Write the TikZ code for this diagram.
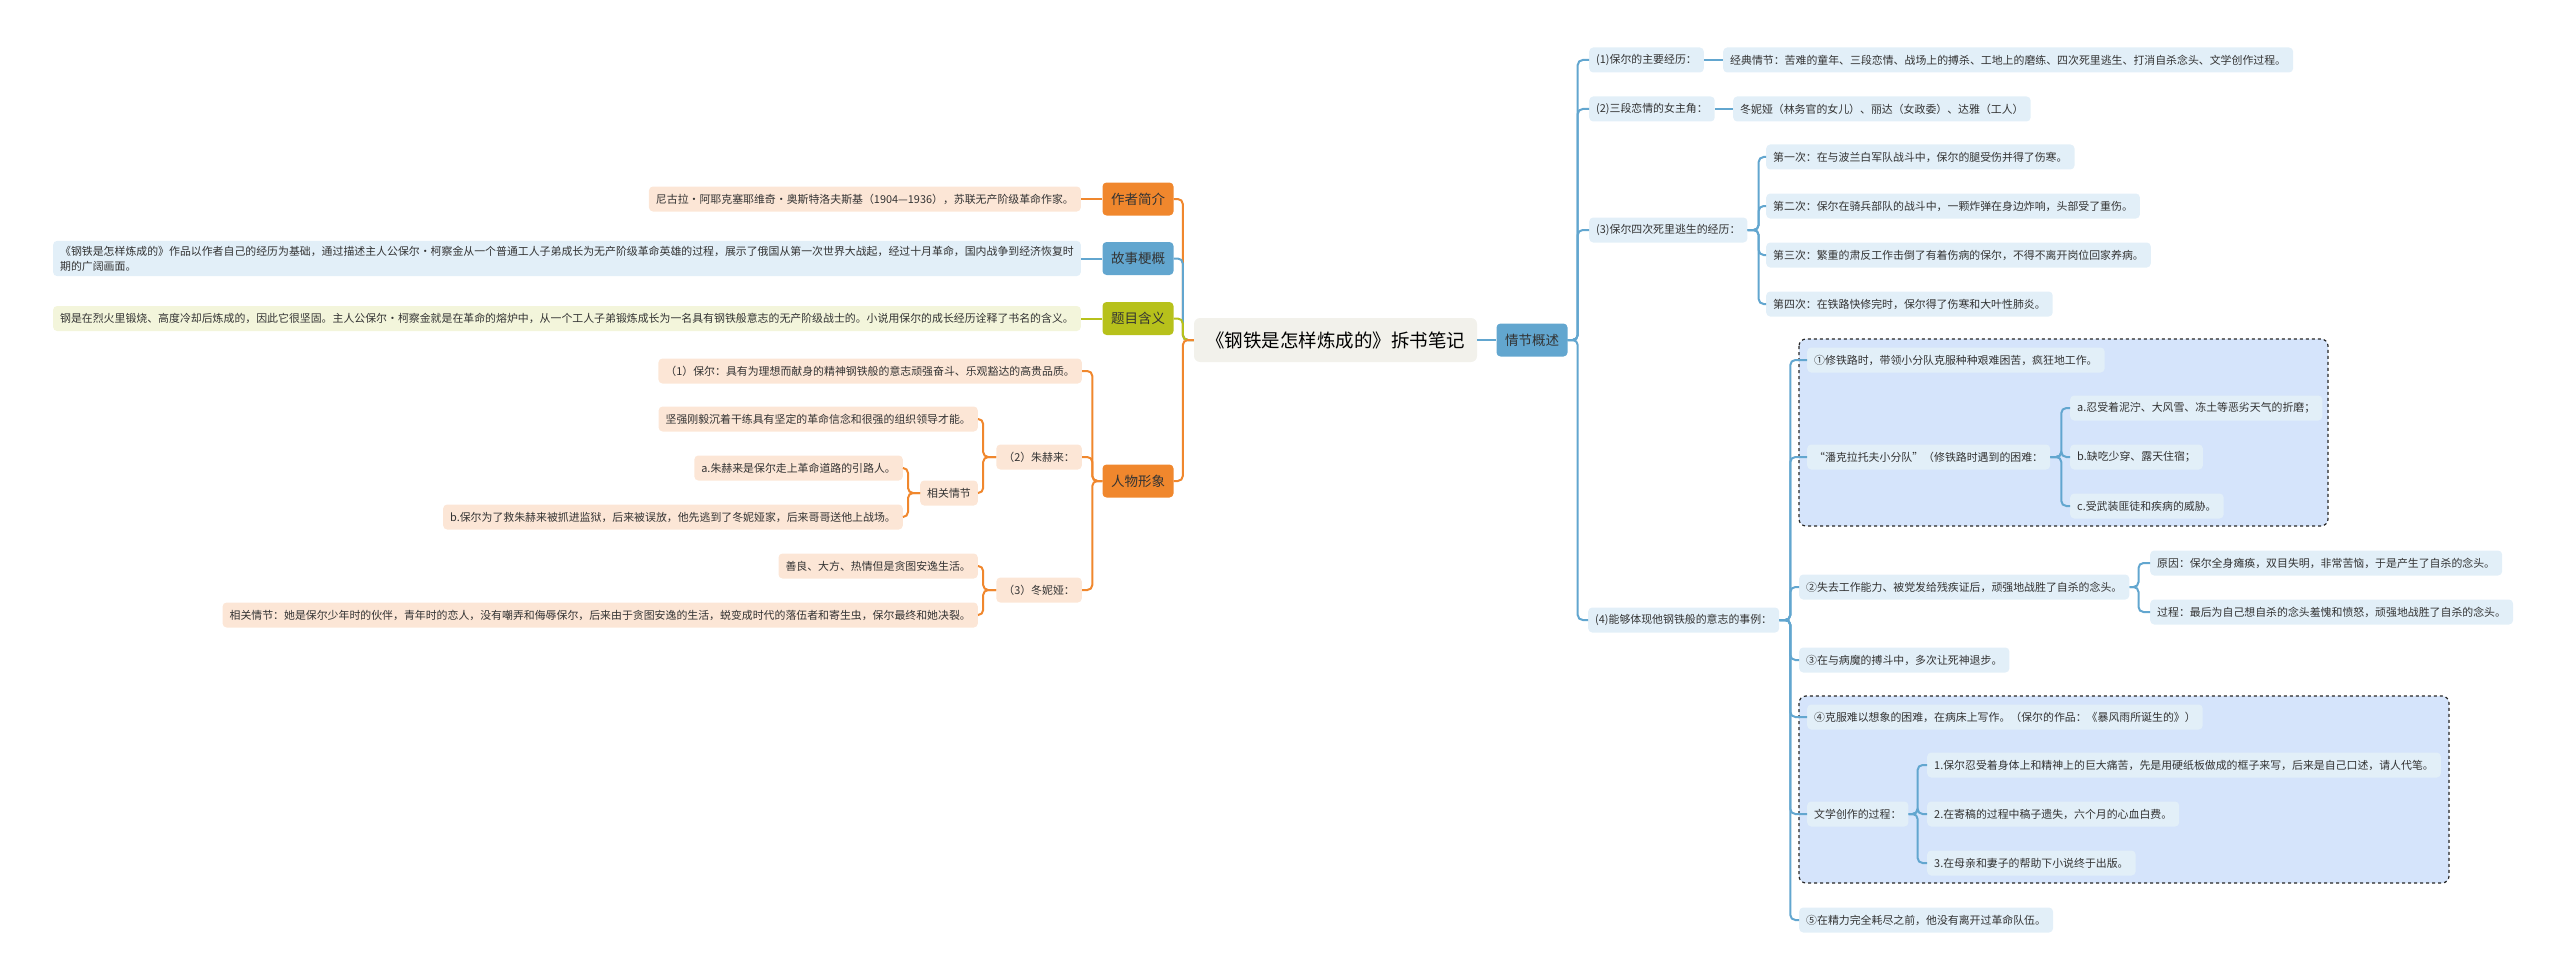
\documentclass[tikz,border=0pt]{standalone}
\usepackage{fontspec}
\setmainfont{Noto Sans CJK SC}

\definecolor{orng}{HTML}{F0872D}
\definecolor{blu}{HTML}{62A6CF}
\definecolor{oliv}{HTML}{B7C11B}
\definecolor{peach}{HTML}{FCE6D6}
\definecolor{lblue}{HTML}{E2EFF8}
\definecolor{lyel}{HTML}{F3F5DB}
\definecolor{rootfill}{HTML}{F2F1EB}
\definecolor{boxblue}{HTML}{D5E4FB}
\definecolor{txt}{HTML}{333333}

\tikzset{
  leaf/.style={rounded corners=4, inner xsep=7, inner ysep=5, minimum height=25,
    font=\fontsize{10.9}{15}\selectfont, text=txt, align=left},
  oleaf/.style={leaf, fill=peach},
  bleaf/.style={leaf, fill=lblue},
  yleaf/.style={leaf, fill=lyel},
  topic/.style={rounded corners=4, minimum width=71, minimum height=33, inner xsep=7,
    font=\fontsize{13.5}{16}\selectfont, text=txt},
  oline/.style={draw=orng, line width=2, rounded corners=5},
  bline/.style={draw=blu, line width=2, rounded corners=5},
  yline/.style={draw=oliv, line width=2, rounded corners=5},
  dashbox/.style={draw=black!85, dashed, line width=1.2, fill=boxblue, rounded corners=7}
}

\begin{document}
\begin{tikzpicture}[x=1pt,y=-1pt]
\useasboundingbox (0,0) rectangle (2560,979);

% groups
\draw[dashbox] (1799,339) rectangle (2328,526);
\draw[dashbox] (1799,696) rectangle (2449,883);

% centre
\node[rounded corners=6, fill=rootfill, minimum width=283, minimum height=44,
  font=\fontsize{18.5}{20}\selectfont, text=black] (root) at (1335.5,340) {《钢铁是怎样炼成的》拆书笔记};
\node[topic, fill=blu] (plot) at (1532,340) {情节概述};

% left topics
\node[topic, fill=orng] (auth) at (1138,199) {作者简介};
\node[topic, fill=blu] (story) at (1138,258.5) {故事梗概};
\node[topic, fill=oliv] (title) at (1138,318.5) {题目含义};
\node[topic, fill=orng] (chars) at (1138,481) {人物形象};

\node[oleaf, anchor=east] (authl) at (1081,199) {尼古拉·阿耶克塞耶维奇·奥斯特洛夫斯基（1904—1936），苏联无产阶级革命作家。};
\node[bleaf, anchor=east] (storyl) at (1081,258.5) {《钢铁是怎样炼成的》作品以作者自己的经历为基础，通过描述主人公保尔·柯察金从一个普通工人子弟成长为无产阶级革命英雄的过程，展示了俄国从第一次世界大战起，经过十月革命，国内战争到经济恢复时\\期的广阔画面。};
\node[yleaf, anchor=east] (titlel) at (1081,318.5) {钢是在烈火里锻烧、高度冷却后炼成的，因此它很坚固。主人公保尔•柯察金就是在革命的熔炉中，从一个工人子弟锻炼成长为一名具有钢铁般意志的无产阶级战士的。小说用保尔的成长经历诠释了书名的含义。};

\node[oleaf, anchor=east] (paul) at (1082,371) {（1）保尔：具有为理想而献身的精神钢铁般的意志顽强奋斗、乐观豁达的高贵品质。};
\node[oleaf, anchor=east] (zhu) at (1082,457) {（2）朱赫来：};
\node[oleaf, anchor=east] (dong) at (1082,590) {（3）冬妮娅：};
\node[oleaf, anchor=east] (zhua) at (978,419) {坚强刚毅沉着干练具有坚定的革命信念和很强的组织领导才能。};
\node[oleaf, anchor=east] (zhub) at (978,493) {相关情节};
\node[oleaf, anchor=east] (zhuba) at (903,468) {a.朱赫来是保尔走上革命道路的引路人。};
\node[oleaf, anchor=east] (zhubb) at (903,517) {b.保尔为了救朱赫来被抓进监狱，后来被误放，他先逃到了冬妮娅家，后来哥哥送他上战场。};
\node[oleaf, anchor=east] (donga) at (978,566) {善良、大方、热情但是贪图安逸生活。};
\node[oleaf, anchor=east] (dongb) at (978,615) {相关情节：她是保尔少年时的伙伴，青年时的恋人，没有嘲弄和侮辱保尔，后来由于贪图安逸的生活，蜕变成时代的落伍者和寄生虫，保尔最终和她决裂。};

% right side
\node[bleaf, anchor=west] (p1) at (1589,60) {(1)保尔的主要经历：};
\node[bleaf, anchor=west] (p1a) at (1723,60) {经典情节：苦难的童年、三段恋情、战场上的搏杀、工地上的磨练、四次死里逃生、打消自杀念头、文学创作过程。};
\node[bleaf, anchor=west] (p2) at (1589,109) {(2)三段恋情的女主角：};
\node[bleaf, anchor=west] (p2a) at (1733,109) {冬妮娅（林务官的女儿）、丽达（女政委）、达雅（工人）};
\node[bleaf, anchor=west] (p3) at (1589,230) {(3)保尔四次死里逃生的经历：};
\node[bleaf, anchor=west] (p3a) at (1766,157) {第一次：在与波兰白军队战斗中，保尔的腿受伤并得了伤寒。};
\node[bleaf, anchor=west] (p3b) at (1766,206) {第二次：保尔在骑兵部队的战斗中，一颗炸弹在身边炸响，头部受了重伤。};
\node[bleaf, anchor=west] (p3c) at (1766,255) {第三次：繁重的肃反工作击倒了有着伤病的保尔，不得不离开岗位回家养病。};
\node[bleaf, anchor=west] (p3d) at (1766,304) {第四次：在铁路快修完时，保尔得了伤寒和大叶性肺炎。};
\node[bleaf, anchor=west] (p4) at (1588,620) {(4)能够体现他钢铁般的意志的事例：};

\node[bleaf, anchor=west] (e1) at (1807,360) {①修铁路时，带领小分队克服种种艰难困苦，疯狂地工作。};
\node[bleaf, anchor=west] (pan) at (1807,457) {“潘克拉托夫小分队”（修铁路时遇到的困难：};
\node[bleaf, anchor=west] (pana) at (2070,408) {a.忍受着泥泞、大风雪、冻土等恶劣天气的折磨；};
\node[bleaf, anchor=west] (panb) at (2070,457) {b.缺吃少穿、露天住宿；};
\node[bleaf, anchor=west] (panc) at (2070,506) {c.受武装匪徒和疾病的威胁。};
\node[bleaf, anchor=west] (e2) at (1799,587) {②失去工作能力、被党发给残疾证后，顽强地战胜了自杀的念头。};
\node[bleaf, anchor=west] (e2a) at (2150,563) {原因：保尔全身瘫痪，双目失明，非常苦恼，于是产生了自杀的念头。};
\node[bleaf, anchor=west] (e2b) at (2150,612) {过程：最后为自己想自杀的念头羞愧和愤怒，顽强地战胜了自杀的念头。};
\node[bleaf, anchor=west] (e3) at (1799,660) {③在与病魔的搏斗中，多次让死神退步。};
\node[bleaf, anchor=west] (e4) at (1807,717) {④克服难以想象的困难，在病床上写作。（保尔的作品：《暴风雨所诞生的》）};
\node[bleaf, anchor=west] (wri) at (1807,814) {文学创作的过程：};
\node[bleaf, anchor=west] (wria) at (1927,765) {1.保尔忍受着身体上和精神上的巨大痛苦，先是用硬纸板做成的框子来写，后来是自己口述，请人代笔。};
\node[bleaf, anchor=west] (wrib) at (1927,814) {2.在寄稿的过程中稿子遗失，六个月的心血白费。};
\node[bleaf, anchor=west] (wric) at (1927,863) {3.在母亲和妻子的帮助下小说终于出版。};
\node[bleaf, anchor=west] (e5) at (1799,920) {⑤在精力完全耗尽之前，他没有离开过革命队伍。};

% connectors, left
\draw[oline] (root.west) -- ++(-11,0) |- (auth.east);
\draw[bline] (root.west) -- ++(-11,0) |- (story.east);
\draw[yline] (root.west) -- ++(-11,0) |- (title.east);
\draw[oline] (root.west) -- ++(-11,0) |- (chars.east);
\draw[oline] (auth.west) -- (authl.east);
\draw[bline] (story.west) -- (storyl.east);
\draw[yline] (title.west) -- (titlel.east);
\foreach \c in {paul,zhu,dong}
  \draw[oline] (chars.west) -- ++(-10,0) |- (\c.east);
\foreach \c in {zhua,zhub}
  \draw[oline] (zhu.west) -- ++(-13,0) |- (\c.east);
\foreach \c in {zhuba,zhubb}
  \draw[oline] (zhub.west) -- ++(-12,0) |- (\c.east);
\foreach \c in {donga,dongb}
  \draw[oline] (dong.west) -- ++(-13,0) |- (\c.east);

% connectors, right
\draw[bline] (root.east) -- (plot.west);
\foreach \c in {p1,p2,p3,p4}
  \draw[bline] (plot.east) -- ++(10,0) |- (\c.west);
\draw[bline] (p1.east) -- (p1a.west);
\draw[bline] (p2.east) -- (p2a.west);
\foreach \c in {p3a,p3b,p3c,p3d}
  \draw[bline] (p3.east) -- ++(11,0) |- (\c.west);
\foreach \c in {e1,pan,e2,e3,e4,wri,e5}
  \draw[bline] (p4.east) -- ++(11,0) |- (\c.west);
\foreach \c in {pana,panb,panc}
  \draw[bline] (pan.east) -- ++(11,0) |- (\c.west);
\foreach \c in {e2a,e2b}
  \draw[bline] (e2.east) -- ++(9,0) |- (\c.west);
\foreach \c in {wria,wrib,wric}
  \draw[bline] (wri.east) -- ++(9,0) |- (\c.west);
\end{tikzpicture}
\end{document}
